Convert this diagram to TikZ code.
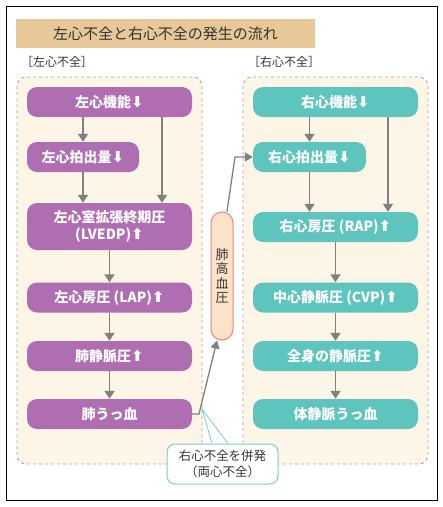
\documentclass[tikz,border=0pt]{standalone}
\usepackage{fontspec}
\usetikzlibrary{arrows.meta, positioning, calc}
\newfontfamily\jp{Noto Sans CJK JP}
\newfontfamily\sym{DejaVu Sans}
\newcommand{\dn}{{\sym\fontsize{15}{16}\selectfont ⬇}}
\newcommand{\up}{{\sym\fontsize{15}{16}\selectfont ⬆}}
\definecolor{leftcolor}{RGB}{176, 110, 178}
\definecolor{rightcolor}{RGB}{94, 196, 190}
\definecolor{panelcolor}{RGB}{253, 246, 231}
\definecolor{titlecolor}{RGB}{232, 200, 152}
\definecolor{capcolor}{RGB}{253, 228, 200}
\definecolor{capedge}{RGB}{240, 128, 128}
\definecolor{noteedge}{RGB}{120, 205, 205}
\definecolor{arrowgray}{RGB}{128, 128, 128}
\definecolor{textgray}{RGB}{51, 51, 51}

\begin{document}
\begin{tikzpicture}[x=1pt, y=-1pt,
        box/.style={rectangle, rounded corners=10pt, minimum height=30pt, inner sep=0pt,
            text=white, font=\jp\bfseries\fontsize{14}{17}\selectfont, align=center},
        lbox/.style={box, fill=leftcolor},
        rbox/.style={box, fill=rightcolor},
        panel/.style={draw=gray!70, dashed, fill=panelcolor, rounded corners=9pt, line width=0.9pt},
        arr/.style={-{Triangle[width=10pt, length=8pt]}, arrowgray, line width=1.8pt},
        link/.style={arrowgray, line width=1.3pt}
    ]
        \useasboundingbox (0,0) rectangle (443,507);
        % Frame
        \draw[line width=1pt] (6,6) rectangle (437,500);

        % Title
        \node[fill=titlecolor, minimum width=299pt, minimum height=29pt, inner sep=0pt,
            font=\jp\fontsize{15}{18}\selectfont, text=textgray] (title) at (165.5,33.5) {左心不全と右心不全の発生の流れ};
        \node[font=\jp\fontsize{12}{14}\selectfont, text=textgray] (ltitle) at (57,62) {［左心不全］};
        \node[font=\jp\fontsize{12}{14}\selectfont, text=textgray] (rtitle) at (284,62) {［右心不全］};

        % Panels
        \draw[panel] (17,77) rectangle (202,464);
        \draw[panel] (243,77) rectangle (428,464);

        % Left heart failure
        \node[lbox, minimum width=165pt] (l1) at (109.5,102) {左心機能\dn};
        \node[lbox, minimum width=112pt] (l2) at (83,157) {左心拍出量\dn};
        \node[lbox, minimum width=165pt, minimum height=47pt] (l3) at (109.5,226.5) {左心室拡張終期圧\\(LVEDP)\up};
        \node[lbox, minimum width=165pt] (l4) at (109.5,297.5) {左心房圧 (LAP)\up};
        \node[lbox, minimum width=165pt] (l5) at (109.5,356) {肺静脈圧\up};
        \node[lbox, minimum width=165pt] (l6) at (109.5,414) {肺うっ血};

        \draw[arr] (l2.north |- l1.south) -- (l2.north);
        \draw[arr] ([xshift=52.5pt]l1.south) -- ([xshift=52.5pt]l1.south |- l3.north);
        \draw[arr] (l2.south) -- (l2.south |- l3.north);
        \draw[arr] (l3) -- (l4);
        \draw[arr] (l4) -- (l5);
        \draw[arr] (l5) -- (l6);

        % Right heart failure
        \node[rbox, minimum width=165pt] (r1) at (335.5,102) {右心機能\dn};
        \node[rbox, minimum width=113pt] (r2) at (309.5,157) {右心拍出量\dn};
        \node[rbox, minimum width=165pt] (r3) at (335.5,227) {右心房圧 (RAP)\up};
        \node[rbox, minimum width=165pt] (r4) at (335.5,297.5) {中心静脈圧 (CVP)\up};
        \node[rbox, minimum width=165pt] (r5) at (335.5,356) {全身の静脈圧\up};
        \node[rbox, minimum width=165pt] (r6) at (335.5,414) {体静脈うっ血};

        \draw[arr] (r2.north |- r1.south) -- (r2.north);
        \draw[arr] ([xshift=52.5pt]r1.south) -- ([xshift=52.5pt]r1.south |- r3.north);
        \draw[arr] (r2.south) -- (r2.south |- r3.north);
        \draw[arr] (r3) -- (r4);
        \draw[arr] (r4) -- (r5);
        \draw[arr] (r5) -- (r6);

        % Pulmonary hypertension
        \node[draw=capedge, fill=capcolor, line width=1pt, rounded corners=11pt,
            minimum width=22pt, minimum height=128pt, inner sep=0pt, align=center,
            font=\jp\fontsize{13}{14.5}\selectfont, text=textgray] (cap) at (222,276) {肺\\高\\血\\圧};
        \coordinate (kink) at (199,414);
        \coordinate (bend) at (235,157);
        \draw[link, -{Triangle[width=9pt, length=8pt]}] (l6.east) -- (kink) -- ([xshift=-5pt]cap.south);
        \draw[link, -{Triangle[width=9pt, length=8pt]}] ([xshift=5pt]cap.north) -- (bend) -- (r2.west);

        % Note
        \coordinate (tip) at (202,409);
        \node[draw=noteedge, fill=white, line width=1pt, rounded corners=8pt,
            minimum width=111pt, minimum height=40pt, inner sep=0pt, align=center,
            font=\jp\fontsize{12.5}{16}\selectfont, text=textgray] (note) at (222.5,464) {右心不全を併発\\（両心不全）};
        \draw[noteedge, line width=0.8pt] ([xshift=-10.5pt]note.north) -- (tip) -- ([xshift=5.5pt]note.north);

    \end{tikzpicture}
\end{document}
